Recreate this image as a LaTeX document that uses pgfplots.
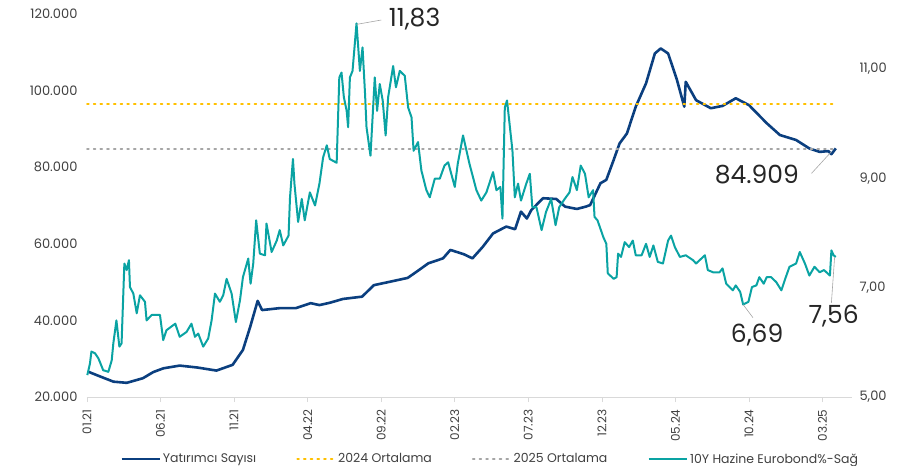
\documentclass[border=0pt]{standalone}
\usepackage{pgfplots}
\pgfplotsset{compat=1.18}
\usepackage{fontspec}
\setmainfont{Poppins}
\definecolor{cblue}{HTML}{0B3F7F}
\definecolor{cteal}{HTML}{0AA3A3}
\definecolor{corange}{HTML}{FFC000}
\definecolor{cgray}{HTML}{A6A6A6}
\definecolor{ctext}{HTML}{404040}
\definecolor{caxis}{HTML}{D9D9D9}
\begin{document}
\begin{tikzpicture}
\pgfplotsset{
  common/.style={
    scale only axis, width=765pt, height=383pt,
    at={(0pt,0pt)}, anchor=south west,
    xmin=0, xmax=52,
    clip=false,
    scaled y ticks=false,
    tick label style={font=\fontsize{13}{15}\selectfont, text=ctext},
  }
}
\begin{axis}[common,
  ymin=20000, ymax=120000,
  axis y line*=left, axis x line*=bottom,
  y axis line style={draw=none},
  x axis line style={draw=caxis, line width=0.8pt},
  ytick={20000,40000,60000,80000,100000,120000},
  yticklabels={20.000,40.000,60.000,80.000,100.000,120.000},
  ytick style={draw=none},
  xtick={0,5,10,15,20,25,30,35,40,45,50},
  xticklabels={01.21,06.21,11.21,04.22,09.22,02.23,07.23,12.23,05.24,10.24,03.25},
  x tick label style={rotate=90, anchor=east, font=\fontsize{12}{14}\selectfont},
  xtick style={draw=caxis, line width=0.8pt},
  major tick length=5pt,
  tick align=outside,
  xticklabel shift=4pt,
  yticklabel style={xshift=-1pt},
  legend style={at={(0.527,-0.162)}, anchor=center, draw=none, fill=none,
    font=\fontsize{12.5}{14}\selectfont, text=ctext,
    legend columns=4, /tikz/every even column/.append style={column sep=38pt}},
  legend image code/.code={\draw[#1] (0pt,0pt) -- (38pt,0pt);},
]
\addplot[cblue, line width=2.6pt, line join=round] coordinates {
(0.09,26600)(0.8,25500)(1.8,24000)(2.7,23700)(3.8,24900)(4.5,26500)(5.2,27500)
(6.3,28200)(7.5,27700)(8.8,26900)(9.9,28400)(10.6,32300)(11.1,38400)(11.6,45100)
(11.9,42700)(13.1,43200)(14.2,43200)(15.2,44500)(15.8,44000)(16.5,44600)(17.4,45600)
(18.7,46200)(19.5,49200)(20.6,50100)(21.8,51100)(22.4,52700)(23.2,54900)(24.2,56200)
(24.7,58400)(25.6,57300)(26.2,56200)(26.9,59200)(27.6,62700)(28.5,64500)(29.1,63800)
(29.5,68400)(29.9,66600)(30.2,68800)(31.0,71900)(31.9,71700)(32.5,69700)(33.3,69100)
(33.9,69700)(34.2,70100)(34.9,75800)(35.3,76700)(35.8,81900)(36.2,86200)(36.7,88800)
(37.3,95800)(38.0,101900)(38.6,109700)(39.0,111000)(39.5,109700)(40.1,102800)
(40.6,95800)(40.7,102300)(41.4,97500)(42.4,95400)(43.2,96000)(44.1,98000)(45.0,96200)
(46.2,91500)(47.1,88400)(48.2,87100)(49.1,84900)(49.8,84000)(50.4,84200)(50.6,83400)
(50.9,84909)};
\addlegendentry{Yatırımcı Sayısı}
\addplot[corange, line width=1.8pt, dash pattern=on 1.8pt off 4.9pt, line cap=round] coordinates {(0,96500)(50.9,96500)};
\addlegendentry{2024 Ortalama}
\addplot[cgray, line width=1.8pt, dash pattern=on 1.8pt off 4.9pt, line cap=round] coordinates {(0,84800)(50.9,84800)};
\addlegendentry{2025 Ortalama}
\addlegendimage{cteal, line width=2.6pt}
\addlegendentry{10Y Hazine Eurobond\%-Sağ}
\draw[gray!70, line width=0.6pt] (axis cs:49.25,78400) -- (axis cs:50.6,84050);
\node[anchor=east, font=\fontsize{25}{28}\selectfont, text=black!85, inner sep=0pt] at (axis cs:48.4,78200) {84.909};
\end{axis}
\begin{axis}[common,
  ymin=5, ymax=12,
  axis y line*=right, axis x line=none,
  y axis line style={draw=none},
  ytick={5,7,9,11},
  yticklabels={{5,00},{7,00},{9,00},{11,00}},
  ytick style={draw=none},
  yticklabel style={anchor=west, xshift=4pt},
  xtick=\empty,
]
\addplot[cteal, line width=2pt, line join=round] coordinates {
(0.02,5.40)(0.2,5.61)(0.3,5.83)(0.54,5.80)(0.77,5.71)(1.1,5.49)(1.45,5.46)(1.68,5.67)
(1.79,5.98)(2.0,6.40)(2.2,5.92)(2.35,5.98)(2.54,7.44)(2.7,7.32)(2.85,7.50)(2.92,7.01)
(3.15,6.89)(3.38,6.53)(3.6,6.86)(3.94,6.74)(4.05,6.40)(4.4,6.50)(4.96,6.50)(5.18,6.04)
(5.4,6.22)(6.0,6.34)(6.3,6.10)(6.77,6.19)(7.1,6.34)(7.34,6.10)(7.56,6.16)(7.9,5.92)
(8.24,6.07)(8.47,6.40)(8.7,6.89)(9.03,6.74)(9.26,6.86)(9.49,7.16)(9.83,6.89)(10.12,6.37)
(10.4,6.77)(10.6,7.19)(10.96,7.53)(11.12,7.07)(11.3,7.44)(11.5,8.23)(11.75,7.62)
(12.1,7.59)(12.2,8.17)(12.55,7.65)(12.9,7.86)(13.1,8.05)(13.34,7.77)(13.7,7.95)
(13.8,8.65)(14.0,9.35)(14.1,8.90)(14.35,8.20)(14.6,8.62)(14.8,8.23)(15.15,8.74)
(15.5,8.50)(15.8,8.90)(16.05,9.38)(16.3,9.60)(16.5,9.35)(16.97,9.28)(17.15,10.84)
(17.3,10.93)(17.46,10.48)(17.65,10.23)(17.75,9.93)(17.87,10.84)(18.05,10.96)(18.32,11.83)
(18.55,10.96)(18.73,11.39)(18.9,10.54)(19.0,9.93)(19.27,9.41)(19.56,10.84)(19.72,10.23)
(19.9,10.72)(20.1,10.42)(20.3,9.78)(20.47,10.48)(20.81,11.05)(21.0,10.66)(21.26,10.96)
(21.6,10.87)(21.83,10.29)(22.06,10.11)(22.2,9.50)(22.5,9.66)(22.73,9.14)(23.07,8.78)
(23.3,8.65)(23.64,8.99)(23.98,8.99)(24.3,9.23)(24.55,9.29)(25.0,8.84)(25.2,9.26)
(25.56,9.78)(26.0,9.26)(26.47,8.78)(26.8,8.59)(27.15,8.74)(27.6,9.11)(27.83,8.78)
(28.1,8.84)(28.24,8.26)(28.4,10.29)(28.55,10.42)(28.7,10.05)(28.92,9.50)(29.08,8.65)
(29.3,8.90)(29.5,8.59)(29.86,8.90)(30.1,9.08)(30.27,8.47)(30.55,8.47)(30.9,8.05)
(31.2,8.38)(31.55,8.62)(31.85,8.14)(32.1,8.47)(32.47,8.62)(32.8,8.74)(33.0,9.02)
(33.3,8.78)(33.56,9.23)(33.85,9.08)(34.1,8.65)(34.4,8.78)(34.5,8.29)(34.7,8.23)
(35.1,7.92)(35.3,7.80)(35.4,7.26)(35.8,7.16)(36.0,7.19)(36.1,7.62)(36.3,7.56)
(36.55,7.83)(36.85,7.74)(37.1,7.86)(37.3,7.59)(37.7,7.59)(38.0,7.80)(38.25,7.56)
(38.5,7.77)(38.8,7.47)(39.15,7.44)(39.5,7.86)(39.7,7.95)(39.96,7.74)(40.3,7.56)
(40.7,7.59)(41.2,7.50)(41.4,7.44)(42.0,7.59)(42.2,7.32)(42.55,7.28)(43.0,7.28)
(43.2,7.35)(43.45,7.07)(43.9,6.95)(44.1,7.04)(44.4,6.92)(44.6,6.69)(44.96,6.74)
(45.2,7.01)(45.5,7.04)(45.7,7.19)(46.0,7.07)(46.2,7.19)(46.5,7.19)(46.85,7.10)
(47.2,6.95)(47.5,7.19)(47.75,7.38)(48.2,7.44)(48.45,7.65)(48.8,7.44)(49.1,7.22)
(49.45,7.38)(49.8,7.28)(50.1,7.32)(50.5,7.22)(50.6,7.68)(50.75,7.59)(50.9,7.56)};
\draw[gray!70, line width=0.6pt] (axis cs:18.32,11.81) -- (axis cs:20.0,11.89);
\node[anchor=west, font=\fontsize{25}{28}\selectfont, text=black!85, inner sep=0pt] at (axis cs:20.5,11.91) {11,83};
\draw[gray!70, line width=0.6pt] (axis cs:44.6,6.69) -- (axis cs:45.27,6.45);
\node[font=\fontsize{25}{28}\selectfont, text=black!85, inner sep=0pt] at (axis cs:45.55,6.14) {6,69};
\draw[gray!70, line width=0.6pt] (axis cs:50.82,7.56) -- (axis cs:50.6,6.72);
\node[font=\fontsize{25}{28}\selectfont, text=black!85, inner sep=0pt] at (axis cs:50.75,6.48) {7,56};
\end{axis}
\pgfresetboundingbox
\path (-87pt,-69pt) rectangle (813pt,397pt);
\end{tikzpicture}
\end{document}
